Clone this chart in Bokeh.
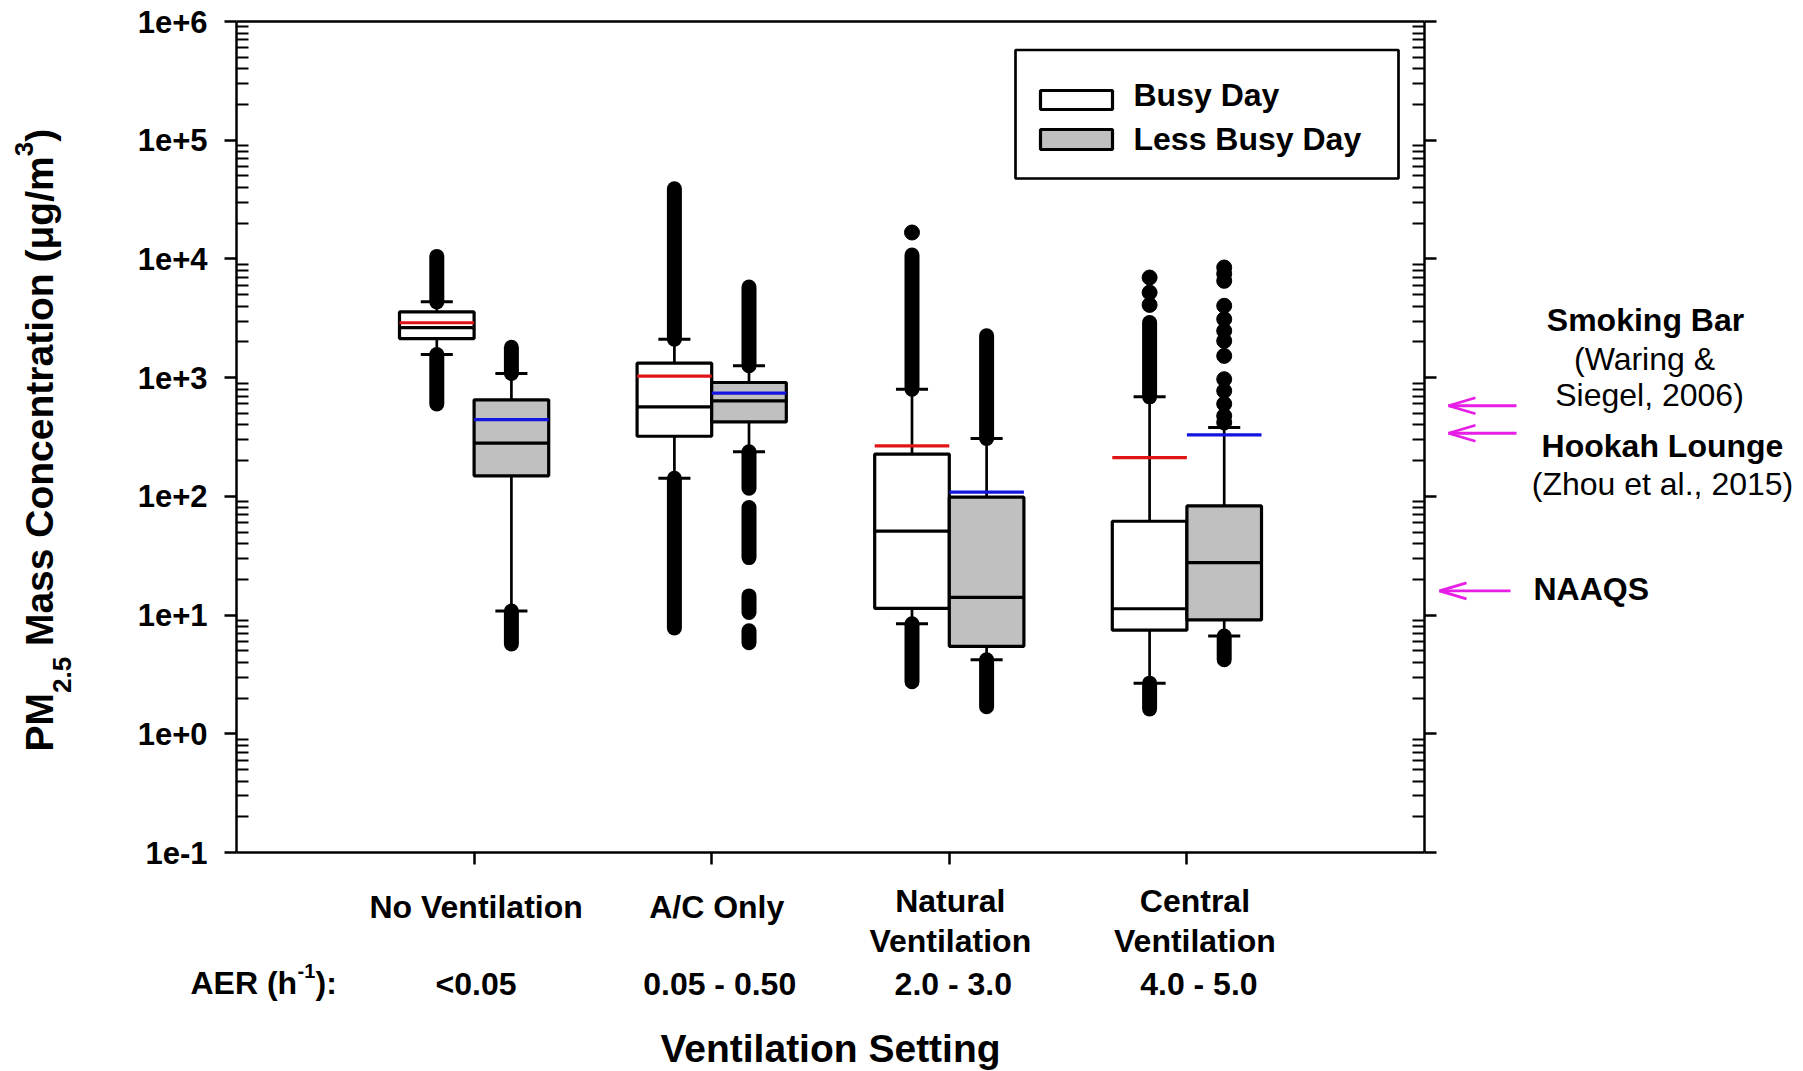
import numpy as np
from bokeh.plotting import figure
from bokeh.models import (Range1d, FixedTicker, CustomJSTickFormatter, LogAxis, LinearAxis,
                          Label, Arrow)
from bokeh.embed import file_html
from bokeh.resources import INLINE

# ---------------- data: PM2.5 mass concentration (ug/m3) ----------------
settings = ["No Ventilation", "A/C Only", "Natural\nVentilation", "Central\nVentilation"]
aer_ranges = ["<0.05", "0.05 - 0.50", "2.0 - 3.0", "4.0 - 5.0"]
groups = ["Busy Day", "Less Busy Day"]

busy_lower_whisker = [1566, 142, 8.45, 2.67]
busy_q1 = [2135, 321, 11.4, 7.46]
busy_median = [2640, 568, 50.9, 11.3]
busy_q3 = [3580, 1325, 227, 61.7]
busy_upper_whisker = [4350, 2110, 800, 689]
busy_mean = [2900, 1029, 266, 212]

less_lower_whisker = [10.8, 237, 4.2, 6.65]
less_q1 = [149, 424, 5.45, 9.1]
less_median = [281, 638, 14.1, 27.7]
less_q3 = [650, 910, 98.4, 83]
less_upper_whisker = [1083, 1259, 307, 380]
less_mean = [443, 740, 108.7, 330]

# outliers: stretches of overlapping points (low, high) and separate points
busy_outlier_runs = [[(600, 1566), (4350, 10500)],
                     [(7.8, 142), (2110, 39000)],
                     [(2.74, 8.45), (800, 10800)],
                     [(1.62, 2.67), (689, 2910)]]
busy_outliers = [[], [], [16700], [4100, 5210, 6970]]
less_outlier_runs = [[(5.7, 10.8), (1083, 1800)],
                     [(5.86, 7.36), (10.5, 14.5), (30.5, 80.5), (117, 237), (1259, 5800)],
                     [(1.69, 4.2), (307, 2250)],
                     [(4.2, 6.65)]]
less_outliers = [[], [], [], [419, 476, 601, 774, 970, 1525, 2040, 2480, 3110, 4030, 6540, 7500, 8470]]

# reference concentrations marked on the right
reference_levels = [580, 340, 16]

# ---------------- layout ----------------
FONT = "Liberation Sans"
W, H = 1803, 1071
FL, FT, FW, FH = 236, 21, 1188, 831          # data box inside the canvas
X0, X1 = 0.0, 5.0
Y0, Y1 = 0.1, 1e6
LOG_SPAN = np.log10(Y1) - np.log10(Y0)


def px_x(px):
    return X0 + (px - FL) / FW * (X1 - X0)


def px_y(py):
    return 10 ** (np.log10(Y1) - (py - FT) / FH * LOG_SPAN)


def shift_y(v, dpx):
    # move a concentration by dpx screen pixels (positive = downwards)
    return v * 10 ** (-dpx / FH * LOG_SPAN)


# the frame spans the whole canvas; the axes sit at fixed data locations
p = figure(frame_width=W, frame_height=H,
           x_range=Range1d(px_x(0), px_x(W)), y_range=Range1d(px_y(H), px_y(0)),
           y_axis_type="log", x_axis_location=None, y_axis_location=None,
           output_backend="svg", toolbar_location=None, min_border=0,
           background_fill_color="white", border_fill_color="white")
p.outline_line_color = None
p.grid.visible = False

decades = [10.0 ** k for k in range(-1, 7)]
minors = [m * 10.0 ** k for k in range(-1, 6) for m in range(2, 10)]


def style_log_axis(ax, show_labels):
    ax.ticker = FixedTicker(ticks=decades, minor_ticks=minors)
    ax.axis_line_color = "black"
    ax.axis_line_width = 2.5
    ax.major_tick_out = 12
    ax.major_tick_in = 0
    ax.major_tick_line_width = 2.5
    ax.major_tick_line_color = "black"
    ax.minor_tick_out = 0
    ax.minor_tick_in = 12
    ax.minor_tick_line_width = 2
    ax.minor_tick_line_color = "black"
    if show_labels:
        ax.formatter = CustomJSTickFormatter(code="""
            const e = Math.round(Math.log10(tick));
            return "1e" + (e < 0 ? "-" : "+") + Math.abs(e);
        """)
        ax.major_label_text_font = FONT
        ax.major_label_text_font_style = "bold"
        ax.major_label_text_font_size = "31px"
        ax.major_label_text_color = "black"
        ax.major_label_standoff = 17
    else:
        ax.formatter = CustomJSTickFormatter(code='return "";')
        ax.major_label_text_font_size = "0px"


left_axis = LogAxis(fixed_location=X0, bounds=(Y0, Y1))
style_log_axis(left_axis, True)
p.add_layout(left_axis, "left")

right_axis = LogAxis(fixed_location=X1, bounds=(Y0, Y1))
style_log_axis(right_axis, False)
p.add_layout(right_axis, "right")

cats = np.arange(1, len(settings) + 1, dtype=float)
bottom_axis = LinearAxis(fixed_location=Y0, bounds=(X0, X1))
bottom_axis.ticker = FixedTicker(ticks=list(cats), minor_ticks=[])
bottom_axis.formatter = CustomJSTickFormatter(code='return "";')
bottom_axis.major_label_text_font_size = "0px"
bottom_axis.axis_line_color = "black"
bottom_axis.axis_line_width = 2.5
bottom_axis.major_tick_out = 12
bottom_axis.major_tick_in = 0
bottom_axis.major_tick_line_width = 2.5
bottom_axis.minor_tick_out = 0
bottom_axis.minor_tick_in = 0
p.add_layout(bottom_axis, "below")

top_axis = LinearAxis(fixed_location=Y1, bounds=(X0, X1))
top_axis.ticker = FixedTicker(ticks=[], minor_ticks=[])
top_axis.formatter = CustomJSTickFormatter(code='return "";')
top_axis.major_label_text_font_size = "0px"
top_axis.axis_line_color = "black"
top_axis.axis_line_width = 2.5
top_axis.major_tick_out = 0
top_axis.major_tick_in = 0
top_axis.minor_tick_out = 0
top_axis.minor_tick_in = 0
p.add_layout(top_axis, "above")

# ---------------- box plots ----------------
BOX_W = 0.314
CAP_W = 0.135

series = [
    dict(side=-1, fill="white", mean_color="#e01414",
         lo=busy_lower_whisker, q1=busy_q1, med=busy_median, q3=busy_q3,
         hi=busy_upper_whisker, mean=busy_mean, runs=busy_outlier_runs, pts=busy_outliers),
    dict(side=1, fill="#c0c0c0", mean_color="#1414e0",
         lo=less_lower_whisker, q1=less_q1, med=less_median, q3=less_q3,
         hi=less_upper_whisker, mean=less_mean, runs=less_outlier_runs, pts=less_outliers),
]

for s in series:
    xc = cats + s["side"] * BOX_W / 2
    left, right = xc - BOX_W / 2, xc + BOX_W / 2

    rx, rlo, rhi = [], [], []
    for x, runs in zip(xc, s["runs"]):
        for lo, hi in runs:
            rx.append(x)
            rlo.append(lo)
            rhi.append(hi)
    p.segment(x0=rx, y0=rlo, x1=rx, y1=rhi, line_width=15, line_cap="round", line_color="black")

    ox, oy = [], []
    for x, pts in zip(xc, s["pts"]):
        ox += [x] * len(pts)
        oy += list(pts)
    p.scatter(ox, oy, size=15, fill_color="black", line_color="black")

    p.segment(x0=xc, y0=s["q3"], x1=xc, y1=s["hi"], line_width=2.7, line_color="black")
    p.segment(x0=xc, y0=s["lo"], x1=xc, y1=s["q1"], line_width=2.7, line_color="black")
    p.segment(x0=xc - CAP_W / 2, y0=s["hi"], x1=xc + CAP_W / 2, y1=s["hi"], line_width=3, line_color="black")
    p.segment(x0=xc - CAP_W / 2, y0=s["lo"], x1=xc + CAP_W / 2, y1=s["lo"], line_width=3, line_color="black")

    p.quad(left=left, right=right, bottom=s["q1"], top=s["q3"],
           fill_color=s["fill"], line_color="black", line_width=3.2)
    p.segment(x0=left, y0=s["med"], x1=right, y1=s["med"], line_width=3.2, line_color="black")
    p.segment(x0=left, y0=s["mean"], x1=right, y1=s["mean"], line_width=3.2, line_color=s["mean_color"])

# ---------------- legend ----------------
p.quad(left=px_x(1015), right=px_x(1398), top=px_y(49.5), bottom=px_y(178),
       fill_color="white", line_color="black", line_width=2.7)
p.quad(left=[px_x(1040)] * 2, right=[px_x(1112)] * 2,
       top=[px_y(90), px_y(129)], bottom=[px_y(109), px_y(149)],
       fill_color=["white", "#c0c0c0"], line_color="black", line_width=3.2)


def text_at(px, py, text, size=32, bold=True, align="center", angle=0.0):
    p.add_layout(Label(x=px_x(px), y=px_y(py), text=text, text_font=FONT,
                       text_font_style="bold" if bold else "normal",
                       text_font_size=f"{size}px", text_align=align,
                       text_baseline="middle", text_color="black", angle=angle))


for name, cy in zip(groups, [94, 138]):
    text_at(1133, cy, name, align="left")

# ---------------- category labels ----------------
label_dx = [2, 5, 1, 8]
aer_dx = [2, 8, 4, 12]
for c, name, dx in zip(cats, settings, label_dx):
    cx = FL + (c - X0) / (X1 - X0) * FW + dx
    lines = name.split("\n")
    ys = [906] if len(lines) == 1 else [900, 940]
    for line, ly in zip(lines, ys):
        text_at(cx, ly, line)
for c, txt, dx in zip(cats, aer_ranges, aer_dx):
    cx = FL + (c - X0) / (X1 - X0) * FW + dx
    text_at(cx, 983, txt)

# "AER (h^-1):"
text_at(190, 982, "AER (h", align="left")
text_at(297, 970, "-1", size=20, align="left")
text_at(315, 982, "):", align="left")

# axis titles
text_at(FL + FW / 2, 1048, "Ventilation Setting", size=39)
up = np.pi / 2
text_at(39, 751, "PM", size=39, align="left", angle=up)
text_at(61, 692.5, "2.5", size=26, align="left", angle=up)
text_at(39, 645.6, "Mass Concentration (μg/m", size=39, align="left", angle=up)
text_at(23, 155.8, "3", size=26, align="left", angle=up)
text_at(39, 141.3, ")", size=39, align="left", angle=up)

# ---------------- reference markers ----------------
MAGENTA = "#e61ee6"
tips = [1448, 1448, 1439]
tails = [1516, 1516, 1510]
for lvl, tip, tail in zip(reference_levels, tips, tails):
    for x0, y0 in [(tail, lvl), (tip + 27, shift_y(lvl, -8)), (tip + 27, shift_y(lvl, 8))]:
        p.add_layout(Arrow(x_start=px_x(x0), y_start=y0, x_end=px_x(tip), y_end=lvl,
                           end=None, line_color=MAGENTA, line_width=2.8))

text_at(1645, 319, "Smoking Bar")
text_at(1644, 358, "(Waring &", bold=False)
text_at(1649, 394, "Siegel, 2006)", bold=False)
text_at(1662, 445, "Hookah Lounge")
text_at(1662, 483, "(Zhou et al., 2015)", bold=False)
text_at(1533, 588, "NAAQS", align="left")

open("out.html", "w").write(file_html(p, INLINE))
